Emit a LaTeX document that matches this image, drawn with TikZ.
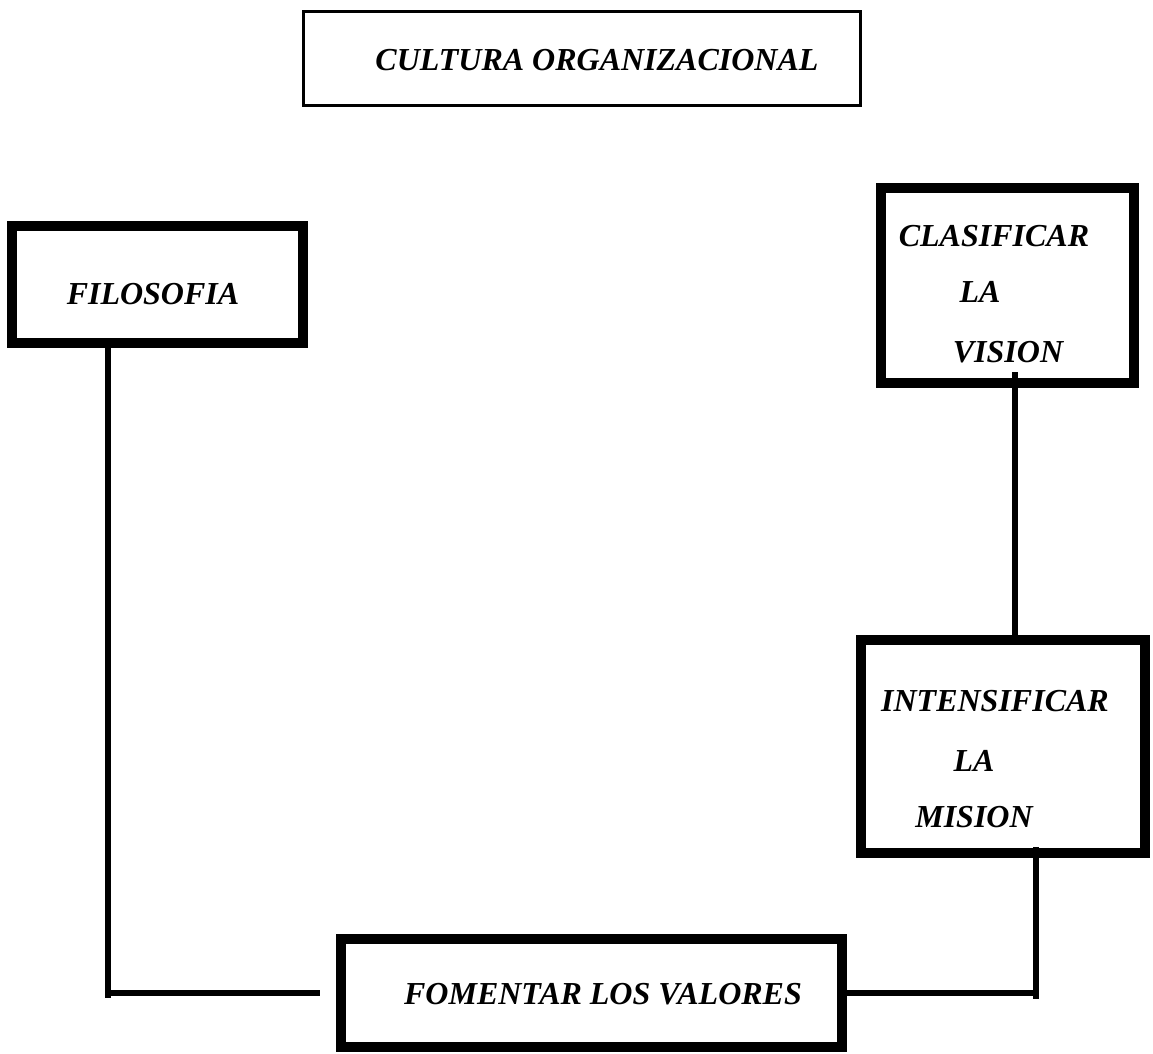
\documentclass[tikz,border=0pt]{standalone}
\usepackage{fontspec}
\setmainfont{Liberation Serif}
\begin{document}
\begin{tikzpicture}[x=0.5pt,y=-0.5pt,
	box/.style={draw,line width=5pt,minimum width=#1,inner sep=0pt},
	txt/.style={inner sep=0pt,font=\bfseries\itshape\fontsize{16}{19}\selectfont},
	link/.style={line width=2.6pt}]
	\useasboundingbox (0,0) rectangle (1153,1054);
	% boxes
	\node[draw,line width=1.5pt,minimum width=278.5pt,minimum height=47pt] (cultura) at (582,58.5) {};
	\node[box=145.5pt,minimum height=58.5pt] (filosofia) at (157.5,284.5) {};
	\node[box=126.5pt,minimum height=97.5pt] (vision) at (1007.5,285.5) {};
	\node[box=142pt,minimum height=106.5pt] (mision) at (1003,746.5) {};
	\node[box=250.5pt,minimum height=54pt] (valores) at (591.5,993) {};
	% texts
	\node[txt] (cultura-t) at (597,60) {CULTURA ORGANIZACIONAL};
	\node[txt] (filosofia-t) at (153,294) {FILOSOFIA};
	\node[txt] (vision-t1) at (994,236) {CLASIFICAR};
	\node[txt] (vision-t2) at (980,292) {LA};
	\node[txt] (vision-t3) at (1008,352) {VISION};
	\node[txt] (mision-t1) at (995,701) {INTENSIFICAR};
	\node[txt] (mision-t2) at (974,761) {LA};
	\node[txt] (mision-t3) at (974,817) {MISION};
	\node[txt] (valores-t) at (603,994) {FOMENTAR LOS VALORES};
	% connectors
	\coordinate (bl) at (108,998);
	\coordinate (br) at (1036,999);
	\coordinate (vm) at (1015,0);
	\draw[link] ([yshift=4pt]filosofia.south -| bl) -- (bl);
	\draw[link] (bl |- valores.west) -- ([xshift=-8pt]valores.west);
	\draw[link] ([yshift=8pt]vision.south -| vm) -- ([yshift=-5pt]mision.north -| vm);
	\draw[link] ([yshift=5.5pt]mision.south -| br) -- (br);
	\draw[link] (valores.east) -- (valores.east -| br);
\end{tikzpicture}
\end{document}
